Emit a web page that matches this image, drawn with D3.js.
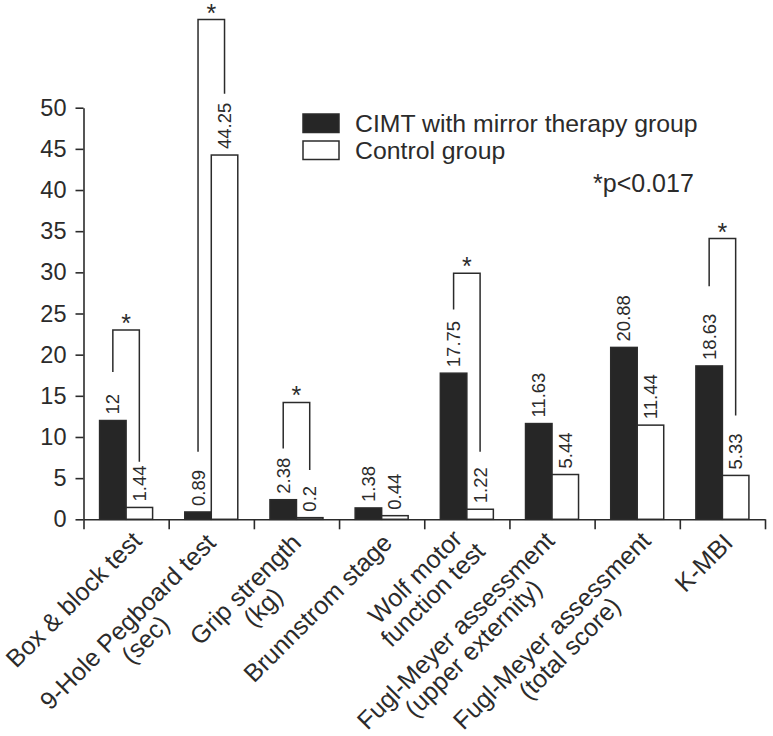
<!DOCTYPE html>
<html>
<head>
<meta charset="utf-8">
<script src="https://cdn.jsdelivr.net/npm/d3@7"></script>
<style>
  html, body { margin: 0; padding: 0; background: #fff; }
  svg { display: block; font-family: "Liberation Sans", Arial, Helvetica, sans-serif; }
</style>
</head>
<body>
<svg id="chart" width="773" height="736"></svg>
<script>
// ---- data ----
const categories = [
  ["Box & block test"],
  ["9-Hole Pegboard test", "(sec)"],
  ["Grip strength", "(kg)"],
  ["Brunnstrom stage"],
  ["Wolf motor", "function test"],
  ["Fugl-Meyer assessment", "(upper externity)"],
  ["Fugl-Meyer assessment", "(total score)"],
  ["K-MBI"]
];
const seriesNames = ["CIMT with mirror therapy group", "Control group"];
const cimtValues = [12, 0.89, 2.38, 1.38, 17.75, 11.63, 20.88, 18.63];
const controlValues = [1.44, 44.25, 0.2, 0.44, 1.22, 5.44, 11.44, 5.33];
const yTicks = [0, 5, 10, 15, 20, 25, 30, 35, 40, 45, 50];
// significance brackets (in data units): category index, top, left leg bottom, right leg bottom
const sigIndex = [0, 1, 2, 4, 7];
const sigTop = [23.0, 60.7, 14.2, 29.9, 34.1];
const sigLeftEnd = [17.9, 8.2, 8.6, 25.5, 28.3];
const sigRightEnd = [7.0, 51.7, 6.0, 8.2, 12.6];
const pNote = "*p<0.017";

// ---- layout ----
const svg = d3.select("#chart");
const x0 = 83.5, x1 = 765, yZero = 519.3, yFifty = 107.7;
const ink = "#2b2b2b";
// small hand-placement nudges of the rotated category labels (screen px)
const labelNudgeX = [5, -6, -6, 0, -10, -8, 3, 0];
const labelNudgeY = [-2, 0, 0, 0, -9, -2, -2, 0];

const x = d3.scaleBand().domain(d3.range(categories.length)).range([x0, x1]).padding(0);
const xInner = d3.scaleBand().domain([0, 1]).range([0, x.bandwidth()]).paddingInner(0).paddingOuter(0.607);
const y = d3.scaleLinear().domain([0, 50]).range([yZero, yFifty]);

// y axis
const yAxis = d3.axisLeft(y).tickValues(yTicks).tickSize(8).tickPadding(9).tickSizeOuter(0);
const gy = svg.append("g").attr("transform", `translate(${x0},0)`).call(yAxis);
gy.select(".domain").attr("stroke", ink).attr("stroke-width", 1.6);
gy.selectAll(".tick line").attr("stroke", ink).attr("stroke-width", 1.6);
gy.selectAll(".tick text").attr("fill", ink).attr("font-size", 23.5).attr("font-family", null);

// x axis
const xAxis = d3.axisBottom(d3.scaleLinear().domain([0, categories.length]).range([x0, x1]))
  .tickValues(d3.range(categories.length + 1)).tickSize(10).tickFormat("").tickSizeOuter(0);
const gx = svg.append("g").attr("transform", `translate(0,${yZero})`).call(xAxis);
gx.select(".domain").attr("stroke", ink).attr("stroke-width", 1.6);
gx.selectAll(".tick line").attr("stroke", ink).attr("stroke-width", 1.6);

// bars
const barData = [];
categories.forEach((c, i) => {
  barData.push({ i, s: 0, v: cimtValues[i] });
  barData.push({ i, s: 1, v: controlValues[i] });
});
const bars = svg.append("g");
bars.selectAll("rect").data(barData).join("rect")
  .attr("x", d => x(d.i) + xInner(d.s))
  .attr("width", xInner.bandwidth())
  .attr("y", d => y(d.v))
  .attr("height", d => y(0) - y(d.v))
  .attr("fill", d => d.s === 0 ? "#262626" : "#ffffff")
  .attr("stroke", ink).attr("stroke-width", 1.5);

// value labels
bars.selectAll("text").data(barData).join("text")
  .attr("transform", d => `translate(${x(d.i) + xInner(d.s) + xInner.bandwidth() / 2},${y(d.v) - 6}) rotate(-90)`)
  .attr("dy", "0.35em")
  .attr("font-size", 18.5)
  .attr("fill", ink)
  .text(d => String(d.v));

// significance brackets
const sig = svg.append("g");
sigIndex.forEach((ci, k) => {
  const xl = x(ci) + xInner(0) + xInner.bandwidth() / 2;
  const xr = x(ci) + xInner(1) + xInner.bandwidth() / 2;
  const path = d3.path();
  path.moveTo(xl, y(sigLeftEnd[k]));
  path.lineTo(xl, y(sigTop[k]));
  path.lineTo(xr, y(sigTop[k]));
  path.lineTo(xr, y(sigRightEnd[k]));
  sig.append("path").attr("d", path.toString()).attr("fill", "none").attr("stroke", ink).attr("stroke-width", 1.5);
  sig.append("text").attr("x", (xl + xr) / 2).attr("y", y(sigTop[k]) + 2)
    .attr("text-anchor", "middle").attr("font-size", 25).attr("fill", ink).text("*");
});

// x labels
const lab = svg.append("g");
const lineH = 25;
categories.forEach((lines, i) => {
  const g = lab.append("g")
    .attr("transform", `translate(${x(i) + x.bandwidth() / 2 + 12 + labelNudgeX[i]},${yZero + 25 + labelNudgeY[i]}) rotate(-45)`);
  const texts = lines.map((t, j) => g.append("text").attr("font-size", 25).attr("fill", ink).text(t));
  const widths = texts.map(t => t.node().getComputedTextLength());
  const maxW = d3.max(widths);
  texts.forEach((t, j) => {
    t.attr("text-anchor", "middle").attr("x", -maxW / 2).attr("y", j * lineH);
  });
});

// legend
const leg = svg.append("g");
seriesNames.forEach((n, k) => {
  leg.append("rect").attr("x", 303).attr("y", 114 + k * 27).attr("width", 36).attr("height", 18.5)
    .attr("fill", k === 0 ? "#262626" : "#fff").attr("stroke", ink).attr("stroke-width", 1.5);
  leg.append("text").attr("x", 355).attr("y", 132 + k * 27).attr("font-size", 24.8).attr("fill", ink).text(n);
});
svg.append("text").attr("x", 593).attr("y", 192).attr("font-size", 25).attr("fill", ink).text(pNote);
</script>
</body>
</html>
